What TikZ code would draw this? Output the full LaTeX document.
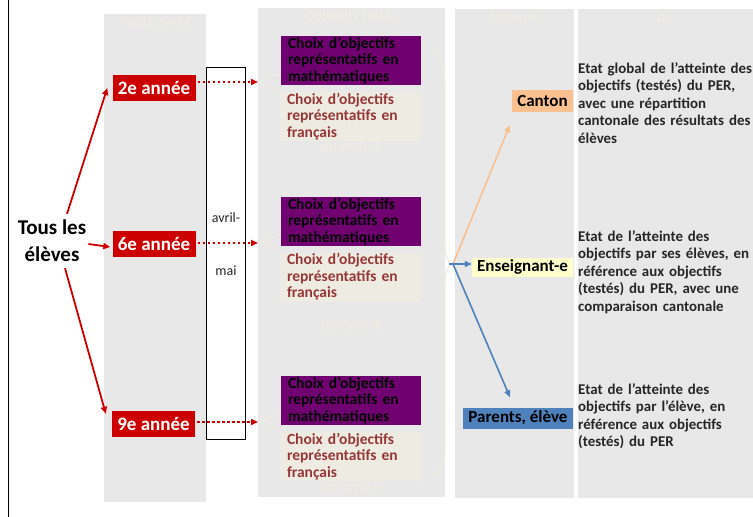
\documentclass[tikz,border=0pt]{standalone}
\usepackage{fontspec}
\setmainfont{Carlito}
\usetikzlibrary{arrows.meta}

\definecolor{bandgrey}{RGB}{232,232,232}
\definecolor{anneered}{RGB}{204,0,0}
\definecolor{mathviolet}{RGB}{112,0,112}
\definecolor{frbeige}{RGB}{238,236,226}
\definecolor{frtext}{RGB}{150,55,55}
\definecolor{ghostcream}{RGB}{238,236,226}
\definecolor{cantonorange}{RGB}{250,192,144}
\definecolor{enseignyellow}{RGB}{255,255,204}
\definecolor{parentblue}{RGB}{79,129,189}

\tikzstyle{annee}=[fill=anneered, text=white, inner sep=0pt, minimum width=83pt, minimum height=26pt, font=\fontsize{19}{19}\selectfont\bfseries]
\tikzstyle{choixmath}=[fill=mathviolet, text=black, text width=126pt, align=left, inner xsep=7pt, inner ysep=0pt, minimum height=49pt, font=\fontsize{15.5}{16.4}\selectfont\bfseries]
\tikzstyle{choixfr}=[choixmath, fill=frbeige, text=frtext]
\tikzstyle{ghost}=[text=ghostcream, inner sep=0pt, font=\fontsize{14.5}{14.5}\selectfont\bfseries]
\tikzstyle{periode}=[text=black!85, inner sep=0pt, font=\fontsize{14}{14}\selectfont]
\tikzstyle{tous}=[align=center, inner sep=2pt, font=\fontsize{21}{27}\selectfont\bfseries]
\tikzstyle{recoit}=[text=black, inner sep=0pt, font=\fontsize{17}{17}\selectfont\bfseries]
\tikzstyle{etat}=[anchor=north west, text width=180pt, align=left, inner sep=0pt, text=black!85, font=\fontsize{14.9}{17.6}\selectfont\bfseries]
\tikzstyle{pousse}=[draw=anneered, line width=1.8pt, -{Triangle[length=7pt,width=6pt]}]
\tikzstyle{pointille}=[pousse, line width=2.4pt, dash pattern=on 2.4pt off 2.6pt]
\tikzstyle{fourche}=[draw=ghostcream, line width=1.4pt]
\tikzstyle{informe}=[line width=1.6pt, -{Triangle[length=7pt,width=6pt]}]

\begin{document}
\begin{tikzpicture}[x=1pt, y=-1pt]
\useasboundingbox (0,0) rectangle (753,517);
% Bands
    \fill[bandgrey] (104,14) rectangle (206,502);
    \fill[bandgrey] (258,8) rectangle (445,497);
    \fill[bandgrey] (455,9) rectangle (574,498);
    \fill[bandgrey] (578,9) rectangle (753,498);
    \draw[line width=0.8pt] (8,0) -- (8,517);
% Faint headings
    \node[ghost] (hpublic) at (155,22) {Public testé};
    \node[ghost] (hobjectifs) at (351,17) {Objectifs testés};
    \node[ghost] (hinforme) at (514,17) {Informé};
    \node[ghost] (hde) at (665,17) {de};
    \node[ghost] (hcycle1) at (351,148) {du cycle 1};
    \node[ghost] (hcycle2) at (351,326) {du cycle 2};
    \node[ghost] (hcycle3) at (351,489) {du cycle 3};
% Period
    \draw[line width=0.8pt] (206.5,67.5) rectangle (245,439);
    \node[periode] (avril) at (226,218) {avril-};
    \node[periode] (mai) at (226,271) {mai};
% Pupils
    \node[tous] (tous) at (52,241) {Tous les\\élèves};
    \node[annee] (a2) at (154,88) {2e année};
    \node[annee] (a6) at (154,244) {6e année};
    \node[annee] (a9) at (153.5,424) {9e année};
    \draw[pousse] ([xshift=15pt,yshift=4pt]tous.north) -- ([xshift=-5pt]a2.west);
    \draw[pousse] ([yshift=-3pt]tous.east) -- ([xshift=-2pt,yshift=-3pt]a6.west);
    \draw[pousse] ([xshift=13pt,yshift=-4pt]tous.south) -- ([xshift=-6pt,yshift=-3pt]a9.north west);
% Objectives
    \node[choixmath] (m2) at (351,60.5) {Choix d’objectifs\\représentatifs en\\mathématiques};
    \node[choixfr] (f2) at (350,116.5) {Choix d’objectifs\\représentatifs en\\français};
    \node[choixmath] (m6) at (351,221.5) {Choix d’objectifs\\représentatifs en\\mathématiques};
    \node[choixfr] (f6) at (350,277) {Choix d’objectifs\\représentatifs en\\français};
    \node[choixmath] (m9) at (351,400.5) {Choix d’objectifs\\représentatifs en\\mathématiques};
    \node[choixfr] (f9) at (350,456.5) {Choix d’objectifs\\représentatifs en\\français};
    \coordinate (fork2) at (258,82);
    \coordinate (fork6) at (258,243);
    \coordinate (fork9) at (258,422);
    \draw[fourche] (fork2) -- ([yshift=12pt]m2.south west);
    \draw[fourche] (fork2) -- ([yshift=2pt]f2.north west);
    \draw[fourche] (fork6) -- ([yshift=12pt]m6.south west);
    \draw[fourche] (fork6) -- ([yshift=2pt]f6.north west);
    \draw[fourche] (fork9) -- ([yshift=12pt]m9.south west);
    \draw[fourche] (fork9) -- ([yshift=2pt]f9.north west);
    \draw[pointille] ([xshift=2pt]a2.east |- fork2) -- (fork2);
    \draw[pointille] ([xshift=2pt]a6.east |- fork6) -- (fork6);
    \draw[pointille] ([xshift=2pt]a9.east |- fork9) -- (fork9);
% Brace
    \coordinate (hub) at (453,264);
    \draw[fourche] (430,49) .. controls (441,52) and (445,66) .. (445,92) -- (445,245)
        .. controls (445,257) and (448,262) .. (hub)
        .. controls (448,266) and (445,271) .. (445,283) -- (445,445)
        .. controls (445,465) and (441,472) .. (430,475);
% Informed
    \node[recoit, fill=cantonorange, minimum width=61pt, minimum height=22pt] (canton) at (542.5,101) {Canton};
    \node[recoit, fill=enseignyellow, minimum width=101pt, minimum height=19pt] (ens) at (522.5,267) {Enseignant-e};
    \node[recoit, fill=parentblue, minimum width=110pt, minimum height=21pt] (parents) at (518,418) {Parents, élève};
    \draw[informe, cantonorange] (hub) -- ([xshift=-2pt,yshift=-13pt]canton.south west);
    \draw[informe, parentblue] ([xshift=-4pt]hub) -- (hub -| ens.west);
    \draw[informe, parentblue] (hub) -- ([xshift=-8pt,yshift=10pt]parents.north);
% What they learn
    \node[etat] (ecanton) at (578,62) {Etat global de l’atteinte des\\objectifs (testés) du PER,\\avec une répartition\\cantonale des résultats des\\élèves};
    \node[etat] (eens) at (578,230) {Etat de l’atteinte des\\objectifs par ses élèves, en\\référence aux objectifs\\(testés) du PER, avec une\\comparaison cantonale};
    \node[etat] (eparents) at (578,383) {Etat de l’atteinte des\\objectifs par l’élève, en\\référence aux objectifs\\(testés) du PER};
\end{tikzpicture}
\end{document}
